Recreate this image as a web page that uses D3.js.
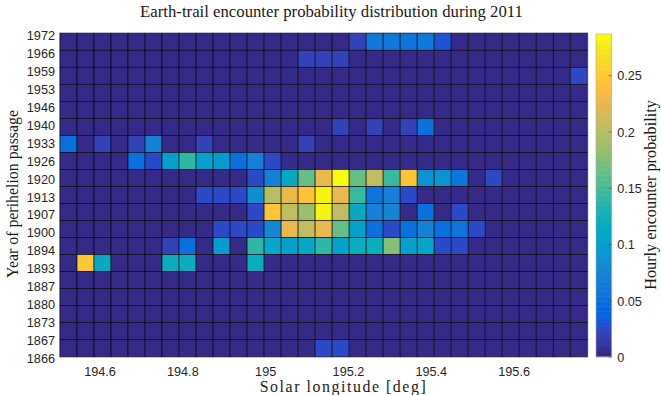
<!DOCTYPE html>
<html><head><meta charset="utf-8">
<script src="https://cdn.jsdelivr.net/npm/d3@7"></script>
<style>body{margin:0;background:#fff}</style>
</head><body>
<svg id="chart" width="661" height="395"></svg>
<script>
// ---------- data ----------
const years = ["1972","1966","1959","1953","1946","1940","1933","1926","1920","1913",
               "1907","1900","1894","1893","1887","1880","1873","1867","1866"];
const lonEdges = [194.5046,194.5457,194.5867,194.6278,194.6689,194.7100,194.7510,194.7921,
                  194.8332,194.8743,194.9153,194.9564,194.9975,195.0386,195.0796,195.1207,
                  195.1618,195.2029,195.2439,195.2850,195.3261,195.3672,195.4082,195.4493,
                  195.4904,195.5315,195.5725,195.6136,195.6547,195.6958,195.7368,195.7779];
const xTicks = [194.6, 194.8, 195, 195.2, 195.4, 195.6];
const cbTicks = [0, 0.05, 0.1, 0.15, 0.2, 0.25];
const cMax = 0.2866;

const r1972 = [0,0,0,0,0,0,0,0,0,0,0,0,0,0,0,0,0,0.022,0.060,0.062,0.057,0.060,0.028,0,0,0,0,0,0,0,0];
const r1966 = [0,0,0,0,0,0,0,0,0,0,0,0,0,0,0.020,0.022,0.022,0,0,0,0,0,0,0,0,0,0,0,0,0,0];
const r1959 = [0,0,0,0,0,0,0,0,0,0,0,0,0,0,0,0,0,0,0,0,0,0,0,0,0,0,0,0,0,0,0.025];
const r1953 = [0,0,0,0,0,0,0,0,0,0,0,0,0,0,0,0,0,0,0,0,0,0,0,0,0,0,0,0,0,0,0];
const r1946 = [0,0,0,0,0,0,0,0,0,0,0,0,0,0,0,0,0,0,0,0,0,0,0,0,0,0,0,0,0,0,0];
const r1940 = [0,0,0,0,0,0,0,0,0,0,0,0,0,0,0,0,0.022,0,0.022,0,0.022,0.050,0,0,0,0,0,0,0,0,0];
const r1933 = [0.050,0,0.022,0,0.022,0.070,0,0,0.022,0,0,0,0,0,0.022,0,0,0,0,0,0,0,0,0,0,0,0,0,0,0,0];
const r1926 = [0,0,0,0,0.050,0.025,0.100,0.140,0.100,0.095,0.050,0.070,0.025,0,0,0,0,0,0,0,0,0,0,0,0,0,0,0,0,0,0];
const r1920 = [0,0,0,0,0,0,0,0,0,0,0,0.025,0.068,0.115,0.165,0.225,0.285,0.165,0.205,0.145,0.245,0.088,0.088,0.055,0,0.025,0,0,0,0,0];
const r1913 = [0,0,0,0,0,0,0,0,0.025,0.025,0.025,0.085,0.200,0.225,0.245,0.280,0.225,0.145,0.055,0.070,0.025,0,0,0,0,0,0,0,0,0,0];
const r1907 = [0,0,0,0,0,0,0,0,0,0,0,0.025,0.245,0.205,0.185,0.280,0.205,0.115,0.070,0.072,0,0.050,0,0.025,0,0,0,0,0,0,0];
const r1900 = [0,0,0,0,0,0,0,0,0,0.025,0.025,0.025,0.080,0.225,0.205,0.225,0.165,0.100,0.050,0.025,0.050,0.070,0.050,0.055,0.025,0,0,0,0,0,0];
const r1894 = [0,0,0,0,0,0,0.022,0.050,0,0.095,0,0.140,0.110,0.100,0.110,0.140,0.100,0.120,0.120,0.175,0.100,0.105,0.025,0.025,0,0,0,0,0,0,0];
const r1893 = [0,0.250,0.115,0,0,0,0.120,0.120,0,0,0,0.120,0,0,0,0,0,0,0,0,0,0,0,0,0,0,0,0,0,0,0];
const r1887 = [0,0,0,0,0,0,0,0,0,0,0,0,0,0,0,0,0,0,0,0,0,0,0,0,0,0,0,0,0,0,0];
const r1880 = [0,0,0,0,0,0,0,0,0,0,0,0,0,0,0,0,0,0,0,0,0,0,0,0,0,0,0,0,0,0,0];
const r1873 = [0,0,0,0,0,0,0,0,0,0,0,0,0,0,0,0,0,0,0,0,0,0,0,0,0,0,0,0,0,0,0];
const r1867 = [0,0,0,0,0,0,0,0,0,0,0,0,0,0,0,0,0,0,0,0,0,0,0,0,0,0,0,0,0,0,0];
const r1866 = [0,0,0,0,0,0,0,0,0,0,0,0,0,0,0,0.025,0.025,0,0,0,0,0,0,0,0,0,0,0,0,0,0];
const values = [r1972,r1966,r1959,r1953,r1946,r1940,r1933,r1926,r1920,r1913,
                r1907,r1900,r1894,r1893,r1887,r1880,r1873,r1867,r1866];

// MATLAB parula (64 entries)
const parula = [
[0.2081,0.1663,0.5292],[0.2116,0.1898,0.5777],[0.2123,0.2138,0.6270],[0.2081,0.2386,0.6771],
[0.1959,0.2645,0.7279],[0.1707,0.2919,0.7792],[0.1253,0.3242,0.8303],[0.0591,0.3598,0.8683],
[0.0117,0.3875,0.8820],[0.0060,0.4086,0.8828],[0.0165,0.4266,0.8786],[0.0329,0.4430,0.8720],
[0.0498,0.4586,0.8641],[0.0629,0.4737,0.8554],[0.0723,0.4887,0.8467],[0.0779,0.5040,0.8384],
[0.0793,0.5200,0.8312],[0.0749,0.5375,0.8263],[0.0641,0.5570,0.8240],[0.0488,0.5772,0.8228],
[0.0343,0.5966,0.8199],[0.0265,0.6137,0.8135],[0.0239,0.6287,0.8038],[0.0231,0.6418,0.7913],
[0.0228,0.6535,0.7768],[0.0267,0.6642,0.7607],[0.0384,0.6743,0.7436],[0.0590,0.6838,0.7254],
[0.0843,0.6928,0.7062],[0.1133,0.7015,0.6859],[0.1453,0.7098,0.6646],[0.1801,0.7177,0.6424],
[0.2178,0.7250,0.6193],[0.2586,0.7317,0.5954],[0.3022,0.7376,0.5712],[0.3482,0.7424,0.5473],
[0.3953,0.7459,0.5244],[0.4420,0.7481,0.5033],[0.4871,0.7491,0.4840],[0.5300,0.7491,0.4661],
[0.5709,0.7485,0.4494],[0.6099,0.7473,0.4337],[0.6473,0.7456,0.4188],[0.6834,0.7435,0.4044],
[0.7184,0.7411,0.3905],[0.7525,0.7384,0.3768],[0.7858,0.7356,0.3633],[0.8185,0.7327,0.3498],
[0.8507,0.7299,0.3360],[0.8824,0.7274,0.3217],[0.9139,0.7258,0.3063],[0.9450,0.7261,0.2886],
[0.9739,0.7314,0.2666],[0.9938,0.7455,0.2403],[0.9990,0.7653,0.2164],[0.9955,0.7861,0.1967],
[0.9880,0.8066,0.1794],[0.9789,0.8271,0.1633],[0.9697,0.8481,0.1475],[0.9626,0.8705,0.1309],
[0.9589,0.8949,0.1132],[0.9598,0.9218,0.0948],[0.9661,0.9514,0.0755],[0.9763,0.9831,0.0538]];
const parulaHex = parula.map(c => d3.rgb(c[0]*255, c[1]*255, c[2]*255).formatHex());
const colorScale = d3.scaleQuantize().domain([0, cMax]).range(parulaHex);

// ---------- layout ----------
const L = 60, R = 587.3, T = 33.3, B = 356.7;
const svg = d3.select("#chart");
const sans = "'Liberation Sans', Arial, Helvetica, sans-serif";
const serif = "'Liberation Serif', 'Times New Roman', serif";

const x = d3.scaleLinear().domain([lonEdges[0], lonEdges[lonEdges.length-1]]).range([L, R]);
const yBand = d3.scaleBand().domain(d3.range(years.length)).range([T, B]);
const yPt = d3.scalePoint().domain(years).range([T, B]);

// frame
svg.append("rect").attr("x", L-0.5).attr("y", T-0.5).attr("width", R-L+1).attr("height", B-T+1)
  .attr("fill", "none").attr("stroke", "#c0c0c0").attr("stroke-width", 1);

// cells
const cells = [];
values.forEach((row, r) => row.forEach((v, c) => cells.push({r, c, v})));
svg.append("g").selectAll("rect").data(cells).join("rect")
  .attr("x", d => x(lonEdges[d.c]))
  .attr("y", d => yBand(d.r))
  .attr("width", d => x(lonEdges[d.c+1]) - x(lonEdges[d.c]))
  .attr("height", yBand.bandwidth())
  .attr("fill", d => colorScale(d.v))
  .attr("stroke", "#000").attr("stroke-opacity", 0.75).attr("stroke-width", 0.8);

// x axis
const xAxis = svg.append("g").attr("transform", `translate(0,${B})`)
  .call(d3.axisBottom(x).tickValues(xTicks).tickSize(0).tickFormat(d => String(d)));
xAxis.select(".domain").remove();
xAxis.selectAll("text").attr("y", 19).attr("dy", 0)
  .attr("font-family", sans).attr("font-size", 12.7).attr("fill", "#262626");

// y axis
const yAxis = svg.append("g").attr("transform", `translate(${L},0)`)
  .call(d3.axisLeft(yPt).tickSize(0));
yAxis.select(".domain").remove();
yAxis.selectAll("text").attr("x", -5).attr("dy", 0).attr("y", 6)
  .attr("font-family", sans).attr("font-size", 12.7).attr("fill", "#262626");

// colorbar
const cbL = 596, cbW = 15.7, cbT = 34, cbB = 356.7;
const cb = d3.scaleLinear().domain([0, cMax]).range([cbB, cbT]);
const steps = parulaHex.map((c, i) => ({c, lo: i*cMax/64, hi: (i+1)*cMax/64}));
svg.append("g").selectAll("rect").data(steps).join("rect")
  .attr("x", cbL).attr("width", cbW)
  .attr("y", d => cb(d.hi)).attr("height", d => cb(d.lo) - cb(d.hi) + 0.5)
  .attr("fill", d => d.c);
svg.append("rect").attr("x", cbL).attr("y", cbT).attr("width", cbW).attr("height", cbB-cbT)
  .attr("fill", "none").attr("stroke", "#a8a8a8").attr("stroke-width", 0.6);
const cbAxis = svg.append("g").attr("transform", `translate(${cbL+cbW},0)`)
  .call(d3.axisRight(cb).tickValues(cbTicks).tickSize(0).tickFormat(d => String(d)));
cbAxis.select(".domain").remove();
cbAxis.selectAll(".tick line").attr("x1", -3).attr("x2", 0).attr("stroke", "#404040").attr("stroke-width", 0.6);
cbAxis.selectAll("text").attr("x", 5.5).attr("dy", 0).attr("y", 4.6)
  .attr("font-family", sans).attr("font-size", 12.7).attr("fill", "#262626");

// helper to fit text width
function fit(t, w) {
  const cur = t.node().getComputedTextLength();
  t.attr("font-size", parseFloat(t.attr("font-size")) * w / cur);
}

// title
const title = svg.append("text").attr("x", 331.5).attr("y", 17).attr("text-anchor", "middle")
  .attr("font-family", serif).attr("font-size", 15).attr("fill", "#1a1a1a")
  .text("Earth-trail encounter probability distribution during 2011");
fit(title, 383);

// y label
const yl = svg.append("text").attr("transform", "translate(18,194) rotate(-90)")
  .attr("text-anchor", "middle")
  .attr("font-family", serif).attr("font-size", 15).attr("fill", "#1a1a1a")
  .text("Year of perihelion passage");
fit(yl, 168);

// x label: same size as the other labels, spread to the reference width
const xl = svg.append("text").attr("x", 343.5).attr("y", 392).attr("text-anchor", "middle")
  .attr("font-family", serif).attr("font-size", parseFloat(yl.attr("font-size")))
  .attr("fill", "#1a1a1a")
  .text("Solar longitude [deg]");
{
  const cur = xl.node().getComputedTextLength();
  const extra = Math.max(0, (166 - cur) / 20);
  xl.attr("letter-spacing", extra);
}

// colorbar label
const cl = svg.append("text").attr("transform", "translate(656,195) rotate(-90)")
  .attr("text-anchor", "middle")
  .attr("font-family", serif).attr("font-size", 15).attr("fill", "#1a1a1a")
  .text("Hourly encounter probability");
fit(cl, 190);
</script>
</body></html>
